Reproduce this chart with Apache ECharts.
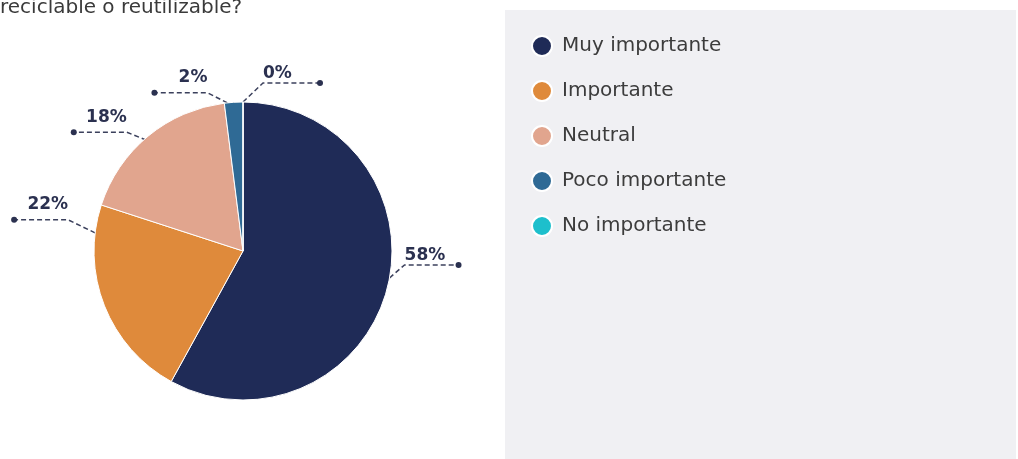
<!DOCTYPE html>
<html>
<head>
<meta charset="utf-8">
<script src="https://cdn.jsdelivr.net/npm/echarts@6/dist/echarts.min.js"></script>
<style>
  html, body { margin: 0; padding: 0; background: #ffffff; }
  #chart { width: 1018px; height: 459px; }
</style>
</head>
<body>
<div id="chart"></div>
<script>
// Survey answers and their share of respondents (%)
const categories = ['Muy importante', 'Importante', 'Neutral', 'Poco importante', 'No importante'];
const shares = [58, 22, 18, 2, 0];
const sliceColors = ['#1f2b57', '#df8a3b', '#e1a58e', '#2f6a95', '#1dbfcc'];

// Pie geometry (pixels)
const PIE_CENTER = [243, 251];
const PIE_RADIUS = 149;

// Leader lines: turn = rotation of the rim anchor from the slice middle (deg),
// inset = how far inside the rim the line starts, elbow = offset of the bend
// from the anchor, run = length of the flat dashed part ending in a dot.
const leaders = [
  { turn: -4,   inset: 0, elbow: [15, -13],  run: 54 },
  { turn: 28.6, inset: 0, elbow: [-27, -13], run: 54 },
  { turn: 0,    inset: 9, elbow: [-27, -11], run: 53 },
  { turn: -2.4, inset: 0, elbow: [-20, -10], run: 53 },
  { turn: 0,    inset: 0, elbow: [20, -19],  run: 57 }
];

const INK = '#2b3150';
const LINE_INK = '#3b405c';
const DOT_LINE = 6;                    // height of the dot row in a label
const LIFT = { right: 12, left: 24 };  // height of the value row per side

const chart = echarts.init(document.getElementById('chart'), null, { renderer: 'canvas' });

const pieData = categories.map((name, i) => ({
  name: name,
  value: shares[i],
  itemStyle: { color: sliceColors[i] },
  label: { width: leaders[i].run + 3 }
}));

function sideOf(i) { return leaders[i].elbow[0] >= 0 ? 1 : -1; }

chart.setOption({
  backgroundColor: '#ffffff',
  animation: false,
  title: {
    text: 'reciclable o reutilizable?',
    left: 0,
    top: -2,
    padding: 0,
    textStyle: {
      fontFamily: 'DejaVu Sans',
      fontSize: 20,
      fontWeight: 'normal',
      color: '#3a3a3a'
    }
  },
  graphic: [{
    type: 'rect',
    left: 505,
    top: 10,
    z: -1,
    silent: true,
    shape: { width: 511, height: 460 },
    style: { fill: '#f0f0f3' }
  }],
  legend: {
    data: categories,
    orient: 'vertical',
    left: 531,
    top: 35,
    padding: 0,
    icon: 'circle',
    itemWidth: 20,
    itemHeight: 20,
    itemGap: 23,
    selectedMode: false,
    textStyle: {
      fontFamily: 'DejaVu Sans',
      fontSize: 20,
      color: '#3c3c3c',
      padding: [0, 0, 0, 5]
    }
  },
  series: [{
    type: 'pie',
    center: PIE_CENTER,
    radius: PIE_RADIUS,
    startAngle: 90,
    clockwise: true,
    avoidLabelOverlap: false,
    data: pieData,
    itemStyle: { borderColor: '#ffffff', borderWidth: 1 },
    emphasis: { disabled: true },
    label: {
      show: true,
      position: 'outside',
      formatter: function (p) {
        return sideOf(p.dataIndex) > 0
          ? '{vr|' + p.value + '%}\n{dr|}'
          : '{vl|' + p.value + '%}\n{dl|}';
      },
      rich: {
        vr: { fontFamily: 'DejaVu Sans', fontWeight: 'bold', fontSize: 17, color: INK, lineHeight: LIFT.right, align: 'left' },
        vl: { fontFamily: 'DejaVu Sans', fontWeight: 'bold', fontSize: 17, color: INK, lineHeight: LIFT.left, align: 'right' },
        dr: { width: 6, height: 6, borderRadius: 3, backgroundColor: INK, lineHeight: DOT_LINE, align: 'right' },
        dl: { width: 6, height: 6, borderRadius: 3, backgroundColor: INK, lineHeight: DOT_LINE, align: 'left' }
      }
    },
    labelLine: {
      show: true,
      length: 10,
      length2: 10,
      lineStyle: { color: LINE_INK, width: 1.5, type: [5, 3] }
    },
    labelLayout: function (params) {
      const i = params.dataIndex;
      const cfg = leaders[i];
      const start = params.labelLinePoints[0];
      let dx = start[0] - PIE_CENTER[0];
      let dy = start[1] - PIE_CENTER[1];
      const len = Math.hypot(dx, dy) || 1;
      dx /= len; dy /= len;
      const t = cfg.turn * Math.PI / 180;
      const rx = dx * Math.cos(t) - dy * Math.sin(t);
      const ry = dx * Math.sin(t) + dy * Math.cos(t);
      const rr = PIE_RADIUS - cfg.inset;
      const a = [PIE_CENTER[0] + rx * rr, PIE_CENTER[1] + ry * rr];
      const b = [a[0] + cfg.elbow[0], a[1] + cfg.elbow[1]];
      const side = sideOf(i);
      const e = [b[0] + side * cfg.run, b[1]];
      const lift = side > 0 ? LIFT.right : LIFT.left;
      return {
        x: b[0],
        y: b[1] - lift - DOT_LINE / 2,
        align: side > 0 ? 'left' : 'right',
        verticalAlign: 'top',
        labelLinePoints: [a, b, e]
      };
    }
  }]
});
</script>
</body>
</html>
